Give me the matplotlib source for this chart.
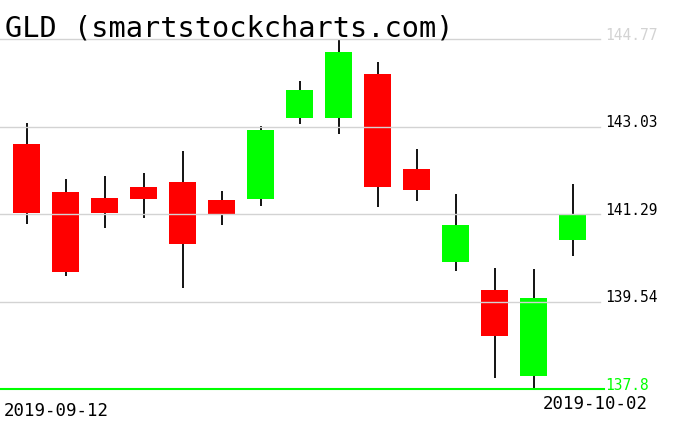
import numpy as np
import matplotlib
matplotlib.use("Agg")
import matplotlib.pyplot as plt

# GLD daily candles, 2019-09-12 .. 2019-10-02
opens = [142.69, 141.73, 141.61, 141.83, 141.93, 141.57, 141.60, 143.21, 143.21, 144.09, 142.19, 140.34, 139.78, 138.07, 140.78]
highs = [143.11, 141.99, 142.05, 142.11, 142.55, 141.75, 143.05, 143.95, 144.76, 144.31, 142.59, 141.69, 140.22, 140.20, 141.89]
lows = [141.10, 140.05, 141.02, 141.22, 139.81, 141.08, 141.46, 143.08, 142.88, 141.44, 141.56, 140.16, 138.03, 137.80, 140.46]
closes = [141.32, 140.14, 141.32, 141.60, 140.70, 141.30, 142.97, 143.77, 144.52, 141.82, 141.78, 141.08, 138.87, 139.62, 141.28]
levels = [144.77, 143.03, 141.29, 139.54, 137.8]
level_labels = ["144.77", "143.03", "141.29", "139.54", "137.8"]
first_date = "2019-09-12"
last_date = "2019-10-02"

W, H = 676, 431
fig = plt.figure(figsize=(W / 100, H / 100), dpi=100)

# axes placed in pixels: x 0..600, y 40.4..390.3
y_top, y_bot = 40.4, 390.3
ax = fig.add_axes([0, 1 - y_bot / H, 600 / W, (y_bot - y_top) / H])
ax.set_xlim((0 - 26.5) / 39, (600 - 26.5) / 39)
ax.set_ylim(levels[-1], levels[0])
ax.axis("off")

x = np.arange(len(opens))
o = np.array(opens)
c = np.array(closes)
up = c >= o
cols = np.where(up, "#00ff00", "#ff0000")

ax.vlines(x, lows, highs, color="black", linewidth=1.3, zorder=1)
ax.bar(x, np.abs(c - o), bottom=np.minimum(o, c), width=0.69,
       color=cols, edgecolor="none", zorder=2)

# grid lines on top of candles
for lv in levels[:-1]:
    ax.axhline(lv, color="#d3d3d3", linewidth=1.0, zorder=3, clip_on=False)
ax.axhline(levels[-1], xmin=0, xmax=604 / 600, color="#00ff00",
           linewidth=1.5, zorder=4, clip_on=False)

mono = "DejaVu Sans Mono"

def px(xp, yp):
    return xp / W, 1 - yp / H

# price labels on the right
lab_cols = ["#d3d3d3", "black", "black", "black", "#00ff00"]
for lv, lab, col in zip(levels, level_labels, lab_cols):
    yp = y_bot - (lv - levels[-1]) / (levels[0] - levels[-1]) * (y_bot - y_top)
    fig.text(*px(605, yp - 0.5), lab, family=mono, fontsize=10.5,
             color=col, ha="left", va="baseline")

fig.text(*px(5, 37), "GLD (smartstockcharts.com)", family=mono,
         fontsize=20.6, color="black", ha="left", va="baseline")
fig.text(*px(4, 416), first_date, family=mono, fontsize=12.5,
         color="black", ha="left", va="baseline")
fig.text(*px(543, 409), last_date, family=mono, fontsize=12.5,
         color="black", ha="left", va="baseline")

fig.savefig("out.png", dpi=100, facecolor="white")
